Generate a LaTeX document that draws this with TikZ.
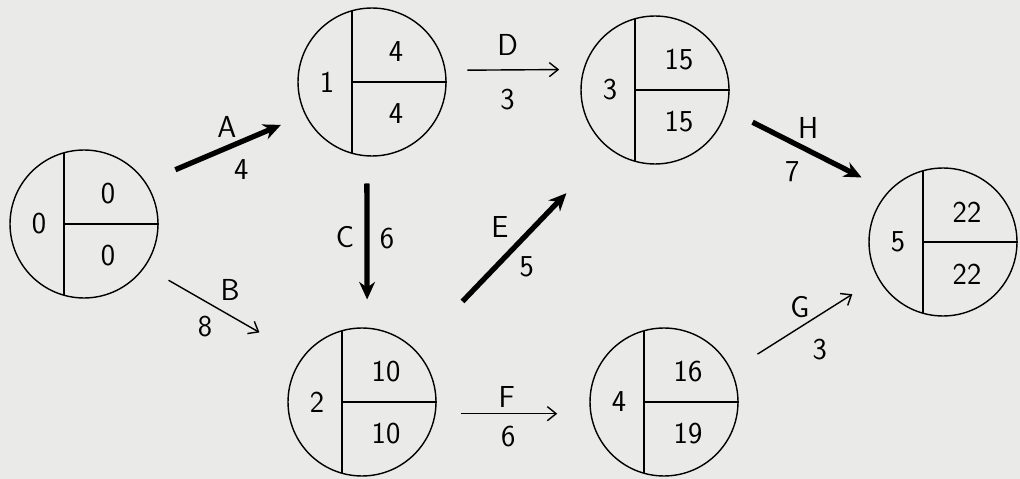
\documentclass[tikz,border=0pt]{standalone}
\usetikzlibrary{arrows.meta}
\definecolor{paper}{RGB}{234,234,232}
\tikzset{
  event/.style={circle,draw,line width=.8pt,minimum size=2.96cm,inner sep=0pt},
  num/.style={font=\sffamily\LARGE,inner sep=1pt},
  act/.style={line width=.8pt,-{Straight Barb[length=5pt,width=8pt]}},
  crit/.style={line width=3pt,-{Stealth[length=10pt,width=9pt]}},
}
\newcommand\eventnode[5]{% name, position, number, earliest, latest
  \node[event] (#1) at (#2) {};
  \draw[line width=.8pt] ([shift={(-20,-71)}]#1.center) -- ([shift={(-20,71)}]#1.center);
  \draw[line width=.8pt] ([shift={(-20,0)}]#1.center) -- (#1.east);
  \node[num] (#1n) at ([shift={(-45,0)}]#1.center) {#3};
  \node[num] (#1e) at ([shift={(24,-30)}]#1.center) {#4};
  \node[num] (#1l) at ([shift={(24,32)}]#1.center) {#5};
}
\begin{document}
\begin{tikzpicture}[x=0.02cm,y=-0.02cm]
\fill[paper] (0,0) rectangle (1020,479);
\eventnode{ev0}{84,224}{0}{0}{0}
\eventnode{ev1}{372,82}{1}{4}{4}
\eventnode{ev2}{362,402}{2}{10}{10}
\eventnode{ev3}{655,90}{3}{15}{15}
\eventnode{ev4}{664,402}{4}{16}{19}
\eventnode{ev5}{943,242}{5}{22}{22}
\draw[crit,shorten <=.64cm,shorten >=.52cm] (ev0.34) -- (ev1.206)
  node[num,pos=.51,yshift=.42cm] (lA) {A} node[num,pos=.60,yshift=-.56cm] (dA) {4};
\draw[act,shorten <=.54cm,shorten >=.99cm] (ev0.325) -- (ev2.143)
  node[num,pos=.54,yshift=.51cm] (lB) {B} node[num,pos=.38,yshift=-.51cm] (dB) {8};
\draw[crit,shorten <=.54cm,shorten >=.56cm] (ev1.266) -- (ev2.86)
  node[num,pos=.47,xshift=-.44cm] (lC) {C} node[num,pos=.48,xshift=.40cm] (dC) {6};
\draw[act,shorten <=.43cm,shorten >=.48cm] (ev1.9) -- (ev3.164)
  node[num,pos=.45,yshift=.5cm] (lD) {D} node[num,pos=.45,yshift=-.6cm] (dD) {3};
\draw[crit,shorten <=1.35cm,shorten >=1.23cm] (ev2.44) -- (ev3.232)
  node[num,pos=.436,yshift=.7cm] (lE) {E} node[num,pos=.574,yshift=-.64cm] (dE) {5};
\draw[act,shorten <=.5cm,shorten >=.66cm] (ev2.351) -- (ev4.189)
  node[num,pos=.46,yshift=.34cm] (lF) {F} node[num,pos=.47,yshift=-.46cm] (dF) {6};
\draw[act,shorten <=.61cm,shorten >=.6cm] (ev4.25) -- (ev5.209)
  node[num,pos=.467,yshift=.41cm] (lG) {G} node[num,pos=.603,yshift=-.7cm] (dG) {3};
\draw[crit,shorten <=.57cm,shorten >=.6cm] (ev3.345) -- (ev5.137)
  node[num,pos=.502,yshift=.45cm] (lH) {H} node[num,pos=.404,yshift=-.59cm] (dH) {7};
\end{tikzpicture}
\end{document}
